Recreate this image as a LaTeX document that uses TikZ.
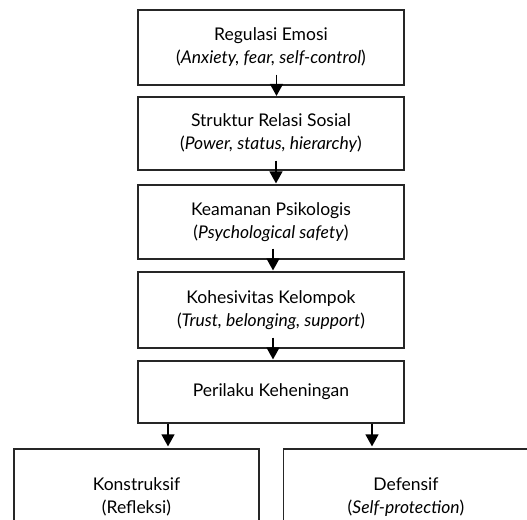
\documentclass[tikz,border=0pt]{standalone}
\usepackage{fontspec}
\setmainfont{Lato}
\usetikzlibrary{arrows.meta,calc}
\tikzset{
  box/.style={draw=black!85, line width=1.2pt, minimum width=266pt, inner sep=0pt,
    align=center, font=\fontsize{17.5}{23}\selectfont},
  lowbox/.style={box, minimum width=245pt, minimum height=96pt},
  arr/.style={line width=1.2pt, -{Triangle[width=13pt,length=12pt]}}
}
\begin{document}
\begin{tikzpicture}[x=1pt,y=-1pt]
\useasboundingbox (0,0) rectangle (527,519);
\clip (0,0) rectangle (527,519);
\node[box, minimum height=75pt] (b1) at (271,47.5) {Regulasi Emosi\\(\textit{Anxiety, fear, self-control})};
\node[box, minimum height=73pt] (b2) at (271,133.5) {Struktur Relasi Sosial\\(\textit{Power, status, hierarchy})};
\node[box, minimum height=74pt] (b3) at (271,222) {Keamanan Psikologis\\(\textit{Psychological safety})};
\node[box, minimum height=76pt] (b4) at (271,310) {Kohesivitas Kelompok\\(\textit{Trust, belonging, support})};
\node[box, minimum height=62pt] (b5) at (271,392) {Perilaku Keheningan};
\node[lowbox] (b6) at (136.5,497) {Konstruksif\\(Refleksi)};
\node[lowbox] (b7) at (406,497) {Defensif\\(\textit{Self-protection})};
\draw[arr] ([xshift=5.5pt,yshift=11pt]b1.south) -- ([xshift=5.5pt,yshift=0.5pt]b2.north);
\draw[arr] ([xshift=5pt,yshift=10pt]b2.south) -- ([xshift=5pt,yshift=1pt]b3.north);
\draw[arr] ([xshift=2pt,yshift=11pt]b3.south) -- ([xshift=2pt,yshift=1pt]b4.north);
\draw[arr] ([xshift=2pt,yshift=11pt]b4.south) -- ([xshift=2pt,yshift=1pt]b5.north);
\coordinate (l) at (168,0);
\coordinate (r) at (372,0);
\draw[arr] (b5.south -| l) -- ([yshift=2pt]b6.north -| l);
\draw[arr] (b5.south -| r) -- ([yshift=2pt]b7.north -| r);
\end{tikzpicture}
\end{document}
